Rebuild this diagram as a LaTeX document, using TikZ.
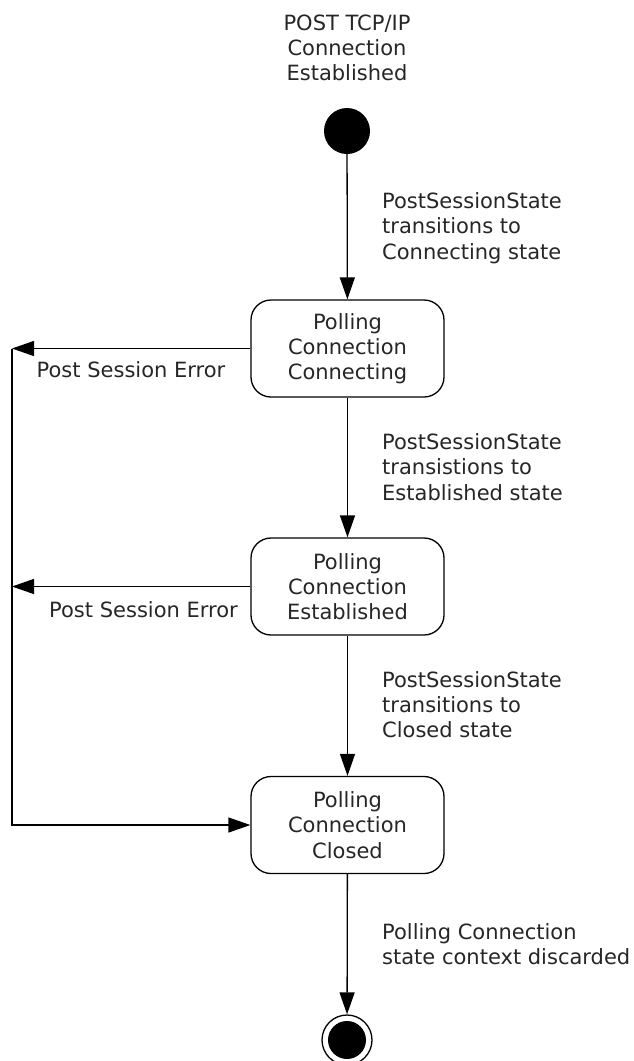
\documentclass[tikz,border=0pt]{standalone}
\usepackage{fontspec}
\setmainfont{DejaVu Sans}
\usetikzlibrary{arrows.meta}
\begin{document}
\begin{tikzpicture}[x=1pt,y=-1pt,
  every node/.style={text=black!85, font=\fontsize{21}{25.3}\selectfont},
  statebox/.style={draw, line width=1.3pt, rounded corners=20pt, minimum width=193pt, minimum height=97pt, align=center, inner sep=0pt},
  lbl/.style={align=left, inner sep=0pt, anchor=west},
  arr/.style={line width=1.3pt, -{Triangle[length=22pt,width=15pt]}},
  ln/.style={line width=1.3pt}]
\path[use as bounding box] (0,0) rectangle (633,1061);
\node[align=center, inner sep=0pt] (title) at (347,48) {POST TCP/IP\\Connection\\Established};
\node[circle, fill=black, minimum size=46pt, inner sep=0pt] (start) at (347,131) {};
\node[statebox] (b1) at (347.5,348.5) {Polling\\Connection\\Connecting};
\node[statebox] (b2) at (347.5,586.5) {Polling\\Connection\\Established};
\node[statebox] (b3) at (347.5,825) {Polling\\Connection\\Closed};
\node[circle, draw, line width=1.3pt, minimum size=50pt, inner sep=0pt] (end) at (347,1040) {};
\node[circle, fill=black, minimum size=38pt, inner sep=0pt] (endin) at (end.center) {};
\node[lbl] (l1) at (382,228) {PostSessionState\\transitions to\\Connecting state};
\node[lbl] (l2) at (382,467) {PostSessionState\\transistions to\\Established state};
\node[lbl] (l3) at (382,704.5) {PostSessionState\\transitions to\\Closed state};
\node[lbl] (l4) at (382,944.5) {Polling Connection\\state context discarded};
\node[inner sep=0pt] (e1) at (131,370) {Post Session Error};
\node[inner sep=0pt] (e2) at (143.5,610) {Post Session Error};
\coordinate (lft) at (12,0);
\draw[arr] (start) -- (b1);
\draw[arr] (b1) -- (b2);
\draw[arr] (b2) -- (b3);
\draw[arr] (b3) -- (end);
\draw[arr] (b1.west) -- (b1.west -| lft);
\draw[arr] (b2.west) -- (b2.west -| lft);
\draw[arr] (b1.west -| lft) -- (b3.west -| lft) -- (b3.west);
\end{tikzpicture}
\end{document}
